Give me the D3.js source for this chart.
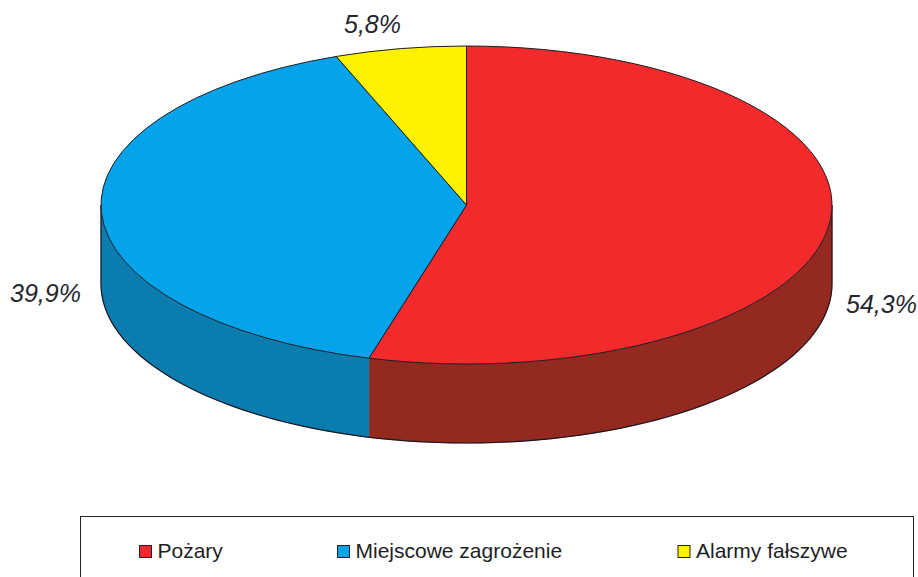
<!DOCTYPE html>
<html><head><meta charset="utf-8">
<script src="https://cdnjs.cloudflare.com/ajax/libs/d3/7.8.5/d3.min.js"></script>
<style>html,body{margin:0;padding:0;background:#fff}svg{display:block}text{font-family:"Liberation Sans",Arial,sans-serif}</style>
</head><body><div id="c"></div>
<script>
const categories = ["Pożary", "Miejscowe zagrożenie", "Alarmy fałszywe"];
const values = [54.3, 39.9, 5.8];
const valueLabels = ["54,3%", "39,9%", "5,8%"];
const topColors = ["#f22a2c", "#05a3ea", "#fff200"];
const sideColors = ["#93291f", "#0a7dae", "#8f8a00"];

const W = 918, H = 577, cx = 466.5, cy = 205, rx = 365.5, ry = 159, depth = 79;
const svg = d3.select("#c").append("svg").attr("width", W).attr("height", H);

const pie = d3.pie().sort(null).value(d => d).startAngle(0).endAngle(2 * Math.PI);
const arcs = pie(values);
const px = a => cx + rx * Math.sin(a), py = a => cy - ry * Math.cos(a);
const rim = (a0, a1) => d3.range(81).map(k => a0 + (a1 - a0) * k / 80);

// side walls: only the part of the rim facing the viewer (90°–270°)
arcs.forEach((d, i) => {
  const a0 = Math.max(d.startAngle, Math.PI / 2), a1 = Math.min(d.endAngle, 3 * Math.PI / 2);
  if (a1 <= a0) return;
  const angles = rim(a0, a1);
  const pts = angles.map(a => [px(a), py(a)]).concat(angles.slice().reverse().map(a => [px(a), py(a) + depth]));
  svg.append("path").attr("d", d3.line()(pts) + "Z")
    .attr("fill", sideColors[i]).attr("stroke", sideColors[i]).attr("stroke-width", 0.5);
});
// outer silhouette of the wall
const outline = [[px(Math.PI / 2), py(Math.PI / 2)]]
  .concat(rim(Math.PI / 2, 3 * Math.PI / 2).map(a => [px(a), py(a) + depth]))
  .concat([[px(3 * Math.PI / 2), py(3 * Math.PI / 2)]]);
svg.append("path").attr("d", d3.line()(outline)).attr("fill", "none")
  .attr("stroke", "#1c1420").attr("stroke-width", 1.2);

// top surface
const arc = d3.arc().innerRadius(0).outerRadius(rx);
svg.append("g").attr("transform", `translate(${cx},${cy}) scale(1,${ry / rx})`)
  .selectAll("path").data(arcs).join("path")
  .attr("d", arc).attr("fill", (d, i) => topColors[i])
  .attr("stroke", "#1c1c24").attr("stroke-width", 1).attr("vector-effect", "non-scaling-stroke");

// value labels
const labelPos = [[846, 313], [10, 302], [344, 33]];
svg.selectAll("text.v").data(valueLabels).join("text").attr("class", "v")
  .attr("x", (d, i) => labelPos[i][0]).attr("y", (d, i) => labelPos[i][1])
  .attr("font-size", 25).attr("font-style", "italic").attr("fill", "#26262e").text(d => d);

// legend
svg.append("rect").attr("x", 80.5).attr("y", 516.5).attr("width", 833).attr("height", 80)
  .attr("fill", "#fff").attr("stroke", "#222").attr("stroke-width", 1);
const legendX = [139.5, 337.5, 678];
categories.forEach((c, i) => {
  svg.append("rect").attr("x", legendX[i]).attr("y", 545.5).attr("width", 12).attr("height", 12)
    .attr("fill", topColors[i]).attr("stroke", "#222").attr("stroke-width", 1);
  svg.append("text").attr("x", legendX[i] + 18).attr("y", 558).attr("font-size", 21).attr("fill", "#1e1e24").text(c);
});
</script></body></html>
